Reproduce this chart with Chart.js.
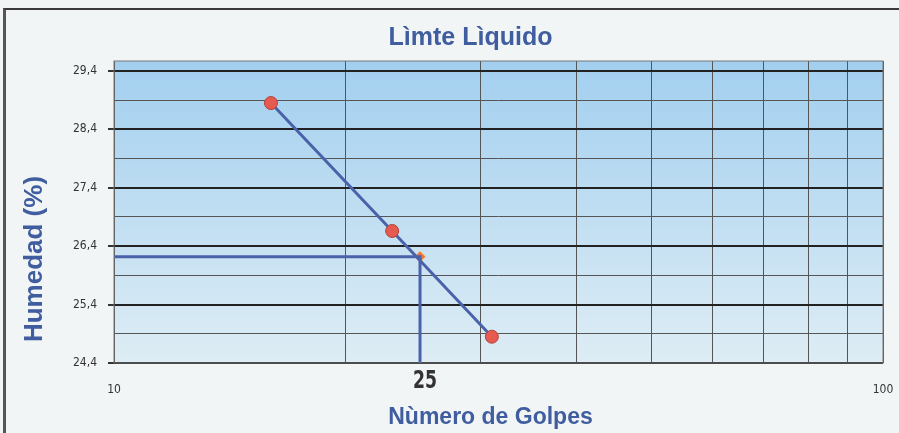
<!DOCTYPE html>
<html>
<head>
<meta charset="utf-8">
<script src="https://cdn.jsdelivr.net/npm/chart.js@4"></script>
<style>
  body { margin: 0; background: #f1f5f6; }
  #wrap { position: relative; width: 899px; height: 433px; }
  #frame { position: absolute; left: 3px; top: 8px; right: -4px; bottom: -4px;
           border-top: 2px solid #3a3a3a; border-left: 3px solid #555; pointer-events: none; }
</style>
</head>
<body>
<div id="wrap">
  <canvas id="myChart" width="899" height="433"></canvas>
  <div id="frame"></div>
</div>
<script>
// donnees
var golpes = [16, 23, 31];
var humedad = [28.85, 26.66, 24.85];
var golpesLL = 25;
var humedadLL = 26.22;

var xTickValues = [10, 20, 30, 40, 50, 60, 70, 80, 90, 100];
var xTickLabels = ['10', '', '', '', '', '', '', '', '', '100'];
var yTickValues = [24.4, 24.9, 25.4, 25.9, 26.4, 26.9, 27.4, 27.9, 28.4, 28.9, 29.4];
var yTickLabels = ['24,4', '', '25,4', '', '26,4', '', '27,4', '', '28,4', '', '29,4'];
var titre = 'Lìmte Lìquido';
var titreX = 'Nùmero de Golpes';
var titreY = 'Humedad (%)';

var blue = '#4a62aa';
var titleBlue = '#3f5d9f';
var narrow = '"DejaVu Sans Condensed", "Liberation Sans Narrow", "Liberation Sans", Arial';
var tickFont = { family: narrow, size: 12 };

function isMajor(ctx) {
    return ctx.tick && yTickLabels[ctx.index] !== '';
}

// fond degrade, cadre, titres et etiquette 25
var plotDecor = {
    id: 'plotDecor',
    beforeDraw: function(chart) {
        var a = chart.chartArea;
        var c = chart.ctx;
        var g = c.createLinearGradient(0, a.top, 0, a.bottom);
        g.addColorStop(0, '#a2cfef');
        g.addColorStop(1, '#deedf5');
        c.save();
        c.fillStyle = g;
        c.fillRect(a.left, a.top, a.right - a.left, a.bottom - a.top);
        c.restore();
    },
    afterDraw: function(chart) {
        var a = chart.chartArea;
        var c = chart.ctx;
        var mid = (a.left + a.right) / 2;
        c.save();
        c.strokeStyle = '#777';
        c.lineWidth = 1;
        c.strokeRect(a.left, a.top, a.right - a.left, a.bottom - a.top);

        c.fillStyle = titleBlue;
        c.textAlign = 'center';
        c.textBaseline = 'middle';
        // titre
        c.font = 'bold 25px "Liberation Sans", Arial';
        c.fillText(titre, mid - 28, 38);
        // titre axe x
        c.font = 'bold 23px "Liberation Sans", Arial';
        c.fillText(titreX, mid - 8, 418);
        // titre axe y
        c.save();
        c.translate(35, (a.top + a.bottom) / 2 + 47);
        c.rotate(-Math.PI / 2);
        c.font = 'bold 26px "Liberation Sans", Arial';
        c.fillText(titreY, 0, 0);
        c.restore();

        // etiquette 25 (etroite)
        var x = chart.scales.x.getPixelForValue(golpesLL);
        c.save();
        c.translate(x + 5, a.bottom + 18);
        c.scale(0.8, 1.05);
        c.fillStyle = '#333';
        c.font = 'bold 24px ' + narrow;
        c.fillText(String(golpesLL), 0, 0);
        c.restore();
        c.restore();
    }
};

var ctx = document.getElementById('myChart').getContext('2d');
var myChart = new Chart(ctx, {
    type: 'scatter',
    data: {
        datasets: [{
            label: 'Ensayo',
            data: golpes.map(function(g, i) { return { x: g, y: humedad[i] }; }),
            showLine: true,
            borderColor: blue,
            borderWidth: 3,
            pointRadius: 6.5,
            pointBackgroundColor: '#e65a4f',
            pointBorderColor: '#b0443c',
            pointBorderWidth: 1
        }, {
            label: 'Guia',
            data: [
                { x: xTickValues[0], y: humedadLL },
                { x: golpesLL, y: humedadLL },
                { x: golpesLL, y: yTickValues[0] }
            ],
            showLine: true,
            borderColor: blue,
            borderWidth: 3,
            pointRadius: 0
        }, {
            label: 'LL',
            data: [{ x: golpesLL, y: humedadLL }],
            pointStyle: 'rectRot',
            pointRadius: 5.5,
            pointBackgroundColor: '#f0703e',
            pointBorderColor: '#f5c070',
            pointBorderWidth: 1
        }]
    },
    options: {
        responsive: false,
        animation: false,
        layout: { padding: { left: 0, right: 16, top: 61, bottom: 0 } },
        plugins: {
            legend: { display: false },
            tooltip: { enabled: false },
            title: { display: false }
        },
        scales: {
            x: {
                type: 'logarithmic',
                min: 10,
                max: 100,
                afterBuildTicks: function(scale) {
                    scale.ticks = xTickValues.map(function(v) { return { value: v }; });
                },
                afterFit: function(scale) {
                    scale.height = 70;
                    scale.paddingLeft = 0;
                    scale.paddingRight = 0;
                },
                ticks: {
                    autoSkip: false,
                    maxRotation: 0,
                    padding: 20,
                    color: '#333',
                    font: tickFont,
                    callback: function(value, index) { return xTickLabels[index]; }
                },
                grid: { color: '#555', lineWidth: 1, drawTicks: false },
                border: { display: false }
            },
            y: {
                min: 24.4,
                max: 29.57,
                afterBuildTicks: function(scale) {
                    scale.ticks = yTickValues.map(function(v) { return { value: v }; });
                },
                afterFit: function(scale) { scale.width = 114; },
                ticks: {
                    autoSkip: false,
                    padding: 11,
                    color: '#333',
                    font: tickFont,
                    callback: function(value, index) { return yTickLabels[index]; }
                },
                grid: {
                    color: function(c) { return isMajor(c) ? '#222' : '#555'; },
                    lineWidth: function(c) { return isMajor(c) ? 2 : 1; },
                    tickColor: function(c) { return isMajor(c) ? '#333' : 'rgba(0,0,0,0)'; },
                    tickLength: 6
                },
                border: { display: false }
            }
        }
    },
    plugins: [plotDecor]
});
</script>
</body>
</html>
